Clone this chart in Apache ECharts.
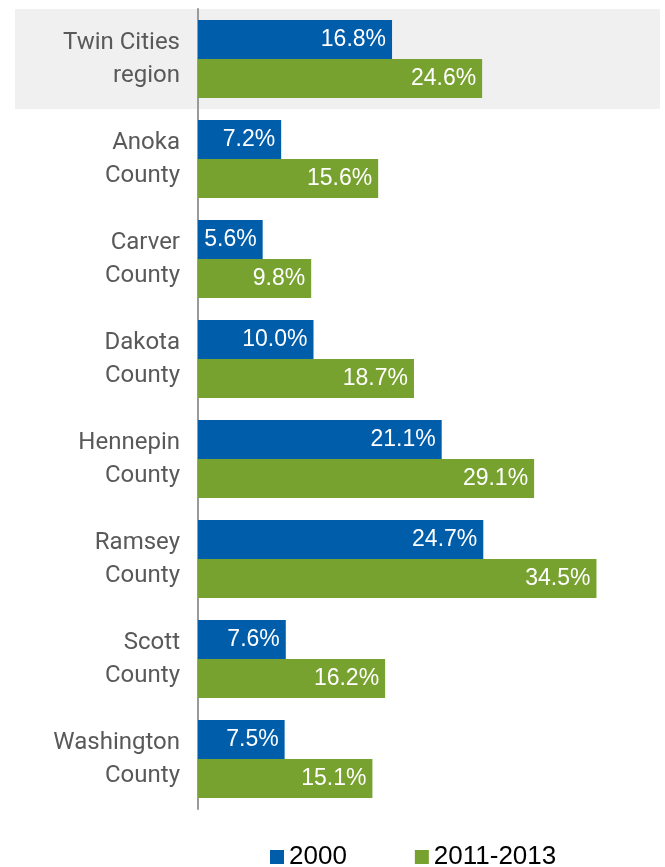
<!DOCTYPE html>
<html>
<head>
<meta charset="utf-8">
<script src="https://cdn.jsdelivr.net/npm/echarts@6/dist/echarts.min.js"></script>
<style>
html,body{margin:0;padding:0;background:#fff;}
#chart{width:665px;height:867px;}
</style>
</head>
<body>
<div id="chart"></div>
<script>
const categories = ['Twin Cities\nregion','Anoka\nCounty','Carver\nCounty','Dakota\nCounty','Hennepin\nCounty','Ramsey\nCounty','Scott\nCounty','Washington\nCounty'];
const seriesNames = ['2000','2011-2013'];
const values2000 = [16.8, 7.2, 5.6, 10.0, 21.1, 24.7, 7.6, 7.5];
const values2011 = [24.6, 15.6, 9.8, 18.7, 29.1, 34.5, 16.2, 15.1];

const chart = echarts.init(document.getElementById('chart'));
const labelCfg = {
  show: true,
  position: 'insideRight',
  distance: 6,
  color: '#ffffff',
  fontFamily: '"Liberation Sans", Arial, sans-serif',
  fontSize: 23,
  padding: [3, 0, 0, 0],
  formatter: p => p.value.toFixed(1) + '%'
};
chart.setOption({
  animation: false,
  backgroundColor: '#ffffff',
  grid: {left: 198, right: 5, top: 9, bottom: 58},
  legend: {
    data: seriesNames,
    left: 265,
    top: 839,
    itemWidth: 14,
    itemHeight: 14,
    itemGap: 68,
    icon: 'rect',
    textStyle: {color: '#000', fontSize: 26, fontFamily: '"Liberation Sans", Arial, sans-serif'}
  },
  xAxis: {
    type: 'value', min: 0, max: 40,
    show: false
  },
  yAxis: {
    type: 'category',
    data: categories,
    inverse: true,
    axisLine: {show: true, lineStyle: {color: '#9a9a9a', width: 2}},
    axisTick: {show: false},
    axisLabel: {
      color: '#595959', fontSize: 24, lineHeight: 33, margin: 18,
      fontFamily: 'Roboto, "Liberation Sans", sans-serif', align: 'right'
    }
  },
  series: [
    {name: seriesNames[0], type: 'bar', data: values2000, itemStyle: {color: '#005DAA'},
     barGap: '0%', barCategoryGap: '22%', label: labelCfg},
    {name: seriesNames[1], type: 'bar', data: values2011, itemStyle: {color: '#78A22F'},
     barGap: '0%', barCategoryGap: '22%', label: labelCfg}
  ]
});
const cy = chart.convertToPixel({yAxisIndex: 0}, categories[0]);
const cy2 = chart.convertToPixel({yAxisIndex: 0}, categories[1]);
const band = cy2 - cy;
chart.setOption({
  graphic: [{
    type: 'rect', z: -10, silent: true,
    shape: {x: 15, y: cy - band / 2, width: 660 - 15, height: band},
    style: {fill: '#f0f0f0'}
  }]
});
</script>
</body>
</html>
